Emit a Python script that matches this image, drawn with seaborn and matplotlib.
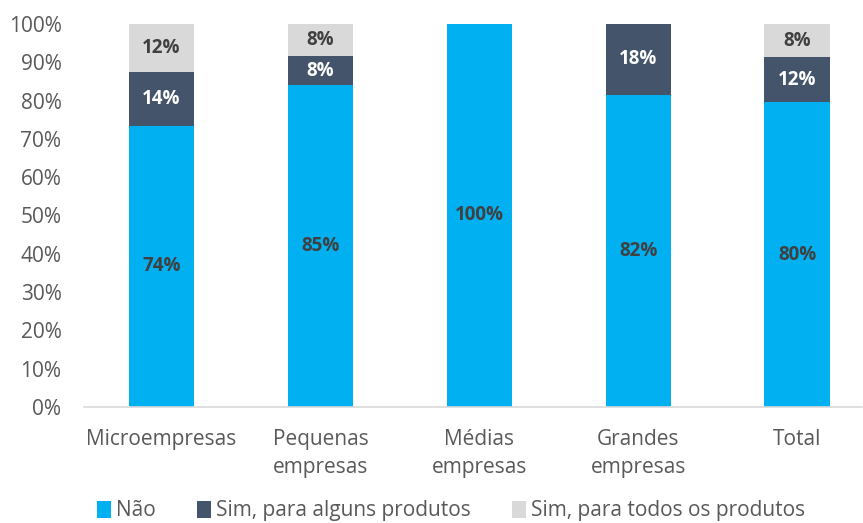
import pandas as pd
import matplotlib.pyplot as plt
import seaborn as sns

categorias = ['Microempresas', 'Pequenas\nempresas', 'Médias\nempresas', 'Grandes\nempresas', 'Total']
nao = [73.5, 84.1, 100.0, 81.5, 79.6]
sim_alguns = [14.0, 7.5, 0.0, 18.5, 11.8]
sim_todos = [12.5, 8.4, 0.0, 0.0, 8.6]
rot_nao = ['74%', '85%', '100%', '82%', '80%']
rot_alguns = ['14%', '8%', '', '18%', '12%']
rot_todos = ['12%', '8%', '', '', '8%']

series = [
    ('Não', nao, '#00B0F0', rot_nao, '#404040'),
    ('Sim, para alguns produtos', sim_alguns, '#44546A', rot_alguns, 'white'),
    ('Sim, para todos os produtos', sim_todos, '#D9D9D9', rot_todos, '#404040'),
]

sns.set_style('white')
plt.rcParams['font.family'] = ['Open Sans', 'DejaVu Sans']

fig = plt.figure(figsize=(8.63, 5.23), dpi=100)
ax = fig.add_axes([0.097, 0.222, 0.902, 0.732])

base = [0.0] * len(categorias)
for nome, vals, cor, rots, cor_txt in series:
    df = pd.DataFrame({'cat': categorias, 'v': vals})
    sns.barplot(data=df, x='cat', y='v', color=cor, width=0.41, bottom=base,
                label=nome, ax=ax, saturation=1, linewidth=0)
    for i, (v, r) in enumerate(zip(vals, rots)):
        if r:
            ax.text(i, base[i] + v / 2, r, ha='center', va='center',
                    fontsize=13.5, fontweight='bold', color=cor_txt)
    base = [b + v for b, v in zip(base, vals)]

ax.set_ylim(0, 100)
ax.set_xlim(-0.49, 4.41)
ax.set_yticks(range(0, 101, 10))
ax.set_yticklabels([f'{t}%' for t in range(0, 101, 10)])
ax.set_xlabel('')
ax.set_ylabel('')
ax.tick_params(axis='both', labelsize=15, colors='#595959', length=0)
ax.tick_params(axis='x', pad=16)
ax.tick_params(axis='y', pad=16)
for t in ax.get_xticklabels():
    t.set_linespacing(1.45)
    t.set_verticalalignment('top')
for s in ['left', 'right', 'top']:
    ax.spines[s].set_visible(False)
ax.spines['bottom'].set_color('#D9D9D9')
ax.spines['bottom'].set_linewidth(1.2)

ax.legend(loc='lower center', bbox_to_anchor=(0.472, -0.348), ncol=3, frameon=False,
          fontsize=15, handlelength=0.65, handleheight=0.9, handletextpad=0.25,
          columnspacing=2.0, labelcolor='#595959')

fig.savefig('out.png', dpi=100)
